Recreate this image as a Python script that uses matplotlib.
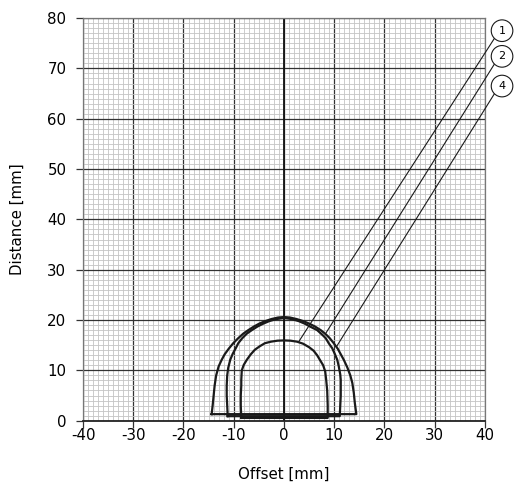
import numpy as np
import matplotlib.pyplot as plt
from matplotlib.patches import Circle

plt.rcParams['font.family'] = ['DejaVu Sans']
plt.rcParams['axes.unicode_minus'] = False

# detection range curves (x offset mm, y distance mm)
curve_A_x = [-14.4, -14.2, -14.0, -13.8, -13.5, -13.0, -12.4, -11.8, -11.0, -10.1, -9.1, -8.1, -7.1, -6.0,
             -4.9, -3.7, -2.5, -1.2, 0.0, 1.2, 2.5, 3.8, 5.0, 6.2, 7.3, 8.3, 9.1, 9.9, 10.7, 11.3,
             11.9, 12.6, 13.2, 13.6, 13.9, 14.1, 14.4, -14.4]
curve_A_y = [1.3, 3.0, 5.0, 7.0, 9.0, 10.8, 12.1, 13.2, 14.3, 15.4, 16.4, 17.3, 18.0, 18.7,
             19.3, 19.8, 20.2, 20.5, 20.6, 20.5, 20.2, 19.8, 19.3, 18.7, 18.0, 17.2, 16.4, 15.4, 14.3, 13.2,
             12.1, 10.6, 9.0, 7.5, 5.5, 3.5, 1.3, 1.3]

curve_B_x = [-11.2, -11.3, -11.4, -11.4, -11.3, -11.1, -10.7, -10.2, -9.6, -9.1, -8.3, -7.4, -6.4, -5.3,
             -4.1, -2.9, -1.5, 0.0, 1.5, 2.9, 4.1, 5.4, 6.6, 7.6, 8.3, 8.9, 9.6, 10.1,
             10.6, 10.9, 11.2, 11.3, 11.3, 11.2, 11.1, -11.2]
curve_B_y = [0.9, 3.0, 5.0, 7.0, 9.0, 10.5, 12.1, 13.3, 14.4, 15.4, 16.4, 17.3, 18.0, 18.7,
             19.3, 19.8, 20.2, 20.4, 20.2, 19.8, 19.3, 18.6, 18.0, 17.1, 16.4, 15.4, 14.4, 13.3,
             12.1, 10.8, 9.2, 8.1, 5.0, 3.0, 0.9, 0.9]

curve_C_x = [-8.5, -8.6, -8.6, -8.5, -8.5, -8.4, -8.0, -7.4, -6.6, -5.8, -4.8, -3.8, -2.6, -1.3, 0.0,
             1.3, 2.6, 3.8, 5.0, 5.9, 6.6, 7.2, 7.8, 8.2, 8.4, 8.6, 8.7, 8.7, -8.5]
curve_C_y = [0.55, 3.0, 5.0, 7.0, 8.1, 10.0, 11.1, 12.1, 13.2, 14.1, 14.8, 15.4, 15.7, 15.9, 15.95,
             15.9, 15.7, 15.3, 14.6, 13.9, 13.0, 12.0, 11.0, 9.8, 8.1, 6.0, 3.0, 0.55, 0.55]

labels = ['1', '2', '4']
leader_start_x = [3.0, 8.4, 10.5]
leader_start_y = [15.8, 17.5, 14.8]
leader_end_x = [41.9, 41.9, 41.9]
leader_end_y = [76.0, 70.9, 65.0]
circle_x = [43.4, 43.4, 43.4]
circle_y = [77.5, 72.4, 66.5]

fig = plt.figure(figsize=(5.14, 4.83), dpi=100)
ax = fig.add_axes([0.1615, 0.129, 0.782, 0.8335])

ax.set_xlim(-40, 40)
ax.set_ylim(0, 80)
ax.set_xticks(np.arange(-40, 41, 10))
ax.set_yticks(np.arange(0, 81, 10))
ax.set_xticks(np.arange(-40, 41, 1), minor=True)
ax.set_yticks(np.arange(0, 81, 1), minor=True)
ax.grid(which='minor', color='#c4c4c4', lw=0.6, zorder=0)
ax.grid(which='major', color='#333333', lw=0.9, zorder=1)
ax.axvline(0, color='#111111', lw=1.3, zorder=2)
ax.set_axisbelow(True)

for s in ['left', 'top', 'right']:
    ax.spines[s].set_color('#777777')
    ax.spines[s].set_linewidth(0.9)
ax.spines['bottom'].set_color('#222222')
ax.spines['bottom'].set_linewidth(1.3)

ax.tick_params(which='major', direction='out', length=5, width=0.9, color='#333333', labelsize=10.8)
ax.tick_params(which='minor', length=0)
ax.tick_params(axis='y', pad=7)
ax.tick_params(axis='x', pad=0.5)

for cx, cy in [(curve_A_x, curve_A_y), (curve_B_x, curve_B_y), (curve_C_x, curve_C_y)]:
    ax.plot(cx, cy, color='#1a1a1a', lw=1.6, solid_joinstyle='round', zorder=4)

for i in range(len(labels)):
    ax.plot([leader_start_x[i], leader_end_x[i]], [leader_start_y[i], leader_end_y[i]],
            color='#1a1a1a', lw=0.8, clip_on=False, zorder=5)
    ax.add_patch(Circle((circle_x[i], circle_y[i]), 2.15, facecolor='white', edgecolor='#1a1a1a',
                        lw=0.8, clip_on=False, zorder=6))
    ax.text(circle_x[i], circle_y[i], labels[i], ha='center', va='center', fontsize=8, zorder=7)

ax.set_xlabel('Offset [mm]', fontsize=10.8, labelpad=17)
ax.set_ylabel('Distance [mm]', fontsize=10.8, labelpad=16)

plt.savefig('out.png', dpi=100)
